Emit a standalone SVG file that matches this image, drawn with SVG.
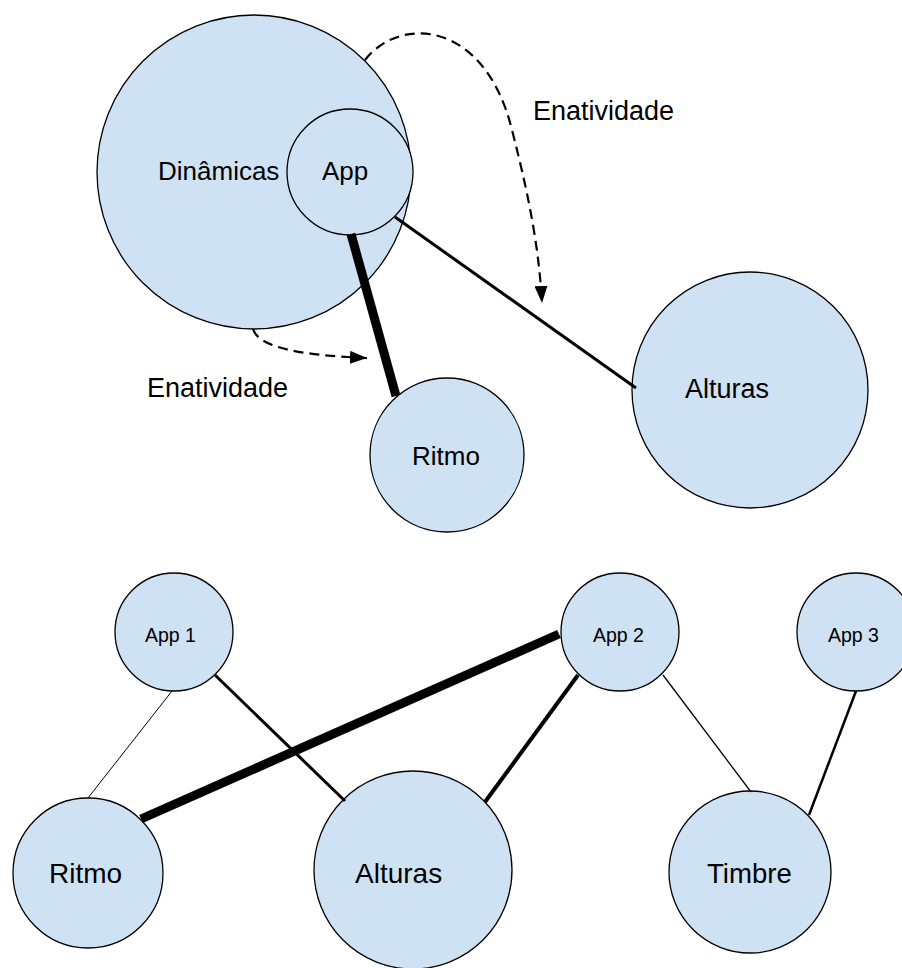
<svg xmlns="http://www.w3.org/2000/svg" width="902" height="968" viewBox="0 0 902 968">
<style>
.node{fill:#cfe2f3;stroke:#000;stroke-width:1.3}
.lbl{font-family:"Liberation Sans",Arial,sans-serif;fill:#000}
.ln{stroke:#000;fill:none;stroke-linecap:butt}
.dash{stroke:#000;fill:none;stroke-width:2.2;stroke-dasharray:10 6}
</style>
<defs>
<marker id="ah" viewBox="0 0 10 10" refX="10" refY="5" markerWidth="17" markerHeight="13" markerUnits="userSpaceOnUse" orient="auto" preserveAspectRatio="none">
<path d="M0,0 L10,5 L0,10 z" fill="#000"/>
</marker>
</defs>
<rect width="902" height="968" fill="#fff"/>
<g id="dinamicas"><circle class="node" cx="254" cy="172" r="157"/><text class="lbl" x="158" y="180" font-size="26">Dinâmicas</text></g>
<g id="app"><circle class="node" cx="350" cy="172" r="63"/><text class="lbl" x="322" y="180" font-size="26">App</text></g>
<g id="ritmo-top"><circle class="node" cx="447" cy="455" r="77"/><text class="lbl" x="412" y="465" font-size="26">Ritmo</text></g>
<g id="alturas-top"><circle class="node" cx="750" cy="390" r="118"/><text class="lbl" x="685" y="398" font-size="27">Alturas</text></g>
<g id="app1"><circle class="node" cx="174" cy="632" r="59"/><text class="lbl" x="145" y="642" font-size="19.5">App 1</text></g>
<g id="app2"><circle class="node" cx="620" cy="632" r="59"/><text class="lbl" x="593" y="642" font-size="19.5">App 2</text></g>
<g id="app3"><circle class="node" cx="856" cy="632" r="59"/><text class="lbl" x="828" y="642" font-size="19.5">App 3</text></g>
<g id="ritmo-bottom"><circle class="node" cx="88" cy="873" r="75"/><text class="lbl" x="49" y="883" font-size="28">Ritmo</text></g>
<g id="alturas-bottom"><circle class="node" cx="413" cy="870" r="99"/><text class="lbl" x="355" y="883" font-size="28">Alturas</text></g>
<g id="timbre"><circle class="node" cx="750" cy="872" r="81"/><text class="lbl" x="707" y="883" font-size="27.6">Timbre</text></g>
<g id="connectors">
<line class="ln" x1="351" y1="234" x2="396" y2="396" stroke-width="9"/>
<line class="ln" x1="395" y1="217" x2="636" y2="388" stroke-width="3"/>
<line class="ln" x1="172" y1="691" x2="88" y2="798" stroke-width="1"/>
<line class="ln" x1="215" y1="675" x2="345" y2="801" stroke-width="3"/>
<line class="ln" x1="559" y1="634" x2="141" y2="819" stroke-width="9"/>
<line class="ln" x1="578" y1="675" x2="485" y2="802" stroke-width="4"/>
<line class="ln" x1="663" y1="675" x2="751" y2="792" stroke-width="1.3"/>
<line class="ln" x1="856" y1="691" x2="809" y2="815" stroke-width="2.5"/>
<path class="dash" d="M365,60 C400,15 485,20 512,130 C530,200 539,250 542,303" marker-end="url(#ah)"/>
<path class="dash" d="M253,329 C258,345 290,355 367,358" marker-end="url(#ah)"/>
</g>
<text class="lbl" x="533" y="120" font-size="27">Enatividade</text>
<text class="lbl" x="147" y="397" font-size="27">Enatividade</text>
</svg>
